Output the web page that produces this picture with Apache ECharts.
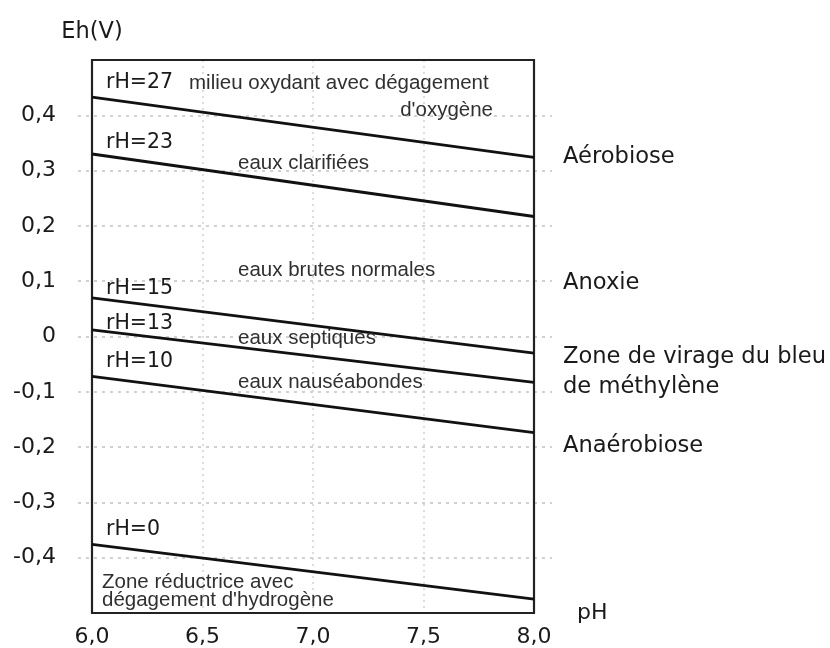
<!DOCTYPE html>
<html>
<head>
<meta charset="utf-8">
<script src="https://cdn.jsdelivr.net/npm/echarts@6/dist/echarts.min.js"></script>
<style>
  html, body { margin: 0; padding: 0; background: #fff; }
  #chart { width: 830px; height: 648px; }
</style>
</head>
<body>
<div id="chart"></div>
<script>
// pH range covered by the iso-rH lines
const phValues = [6.0, 8.0];
// iso-rH lines: rH value, Eh (V) at pH 6 and at pH 8
const rHValues = [27, 23, 15, 13, 10, 0];
const ehAtPh6 = [0.433, 0.330, 0.070, 0.012, -0.072, -0.376];
const ehAtPh8 = [0.324, 0.217, -0.030, -0.083, -0.174, -0.475];
// axis extents
const xRange = [6.0, 8.0];
const yRange = [-0.5, 0.5];
// zone descriptions inside the plot
const zoneTexts = [
  'milieu oxydant avec dégagement',
  "d'oxygène",
  'eaux clarifiées',
  'eaux brutes normales',
  'eaux septiques',
  'eaux nauséabondes',
  'Zone réductrice avec',
  "dégagement d'hydrogène"
];
// biological states on the right side
const stateTexts = ['Aérobiose', 'Anoxie', 'Zone de virage du bleu', 'de méthylène', 'Anaérobiose'];

const LABEL_FONT = '"DejaVu Sans", Verdana, sans-serif';
const ZONE_FONT = '"Liberation Sans", Arial, sans-serif';
const INK = '#1a1a1a';

function fmtComma(v) {
  if (Math.abs(v) < 1e-9) return '0';
  return v.toFixed(1).replace('.', ',');
}

const chart = echarts.init(document.getElementById('chart'), null, { renderer: 'canvas' });

const lineSeries = rHValues.map((rh, i) => ({
  name: 'rH=' + rh,
  type: 'line',
  xAxisIndex: 0,
  yAxisIndex: 0,
  data: [[phValues[0], ehAtPh6[i]], [phValues[1], ehAtPh8[i]]],
  symbol: 'none',
  silent: true,
  z: 5,
  lineStyle: { color: '#111', width: 2.8 }
}));

// "rH=.." captions sit just above the left end of each line
const rhLabelY = [83, 143, 289, 324, 362, 530];
const zonePos = [
  [189, 83, 'left'], [493, 110, 'right'], [238, 163, 'left'], [238, 270, 'left'],
  [238, 338, 'left'], [238, 382, 'left'], [102, 582, 'left'], [102, 600, 'left']
];
const statePos = [157, 283, 357, 387, 446];

const graphics = [];
rHValues.forEach((rh, i) => {
  graphics.push({
    type: 'text', x: 106, y: rhLabelY[i], z: 10,
    style: { text: 'rH=' + rh, fontFamily: LABEL_FONT, fontSize: 20.5, fill: INK, align: 'left', verticalAlign: 'middle' }
  });
});
zoneTexts.forEach((t, i) => {
  graphics.push({
    type: 'text', x: zonePos[i][0], y: zonePos[i][1], z: 10,
    style: { text: t, fontFamily: ZONE_FONT, fontSize: 20.5, fill: '#303030', align: zonePos[i][2], verticalAlign: 'middle' }
  });
});
stateTexts.forEach((t, i) => {
  graphics.push({
    type: 'text', x: 563, y: statePos[i], z: 10,
    style: { text: t, fontFamily: LABEL_FONT, fontSize: 22.6, fill: INK, align: 'left', verticalAlign: 'middle' }
  });
});

const option = {
  backgroundColor: '#fff',
  animation: false,
  grid: [
    // main plot frame
    { left: 92, right: 296, top: 60, bottom: 35, show: true, borderColor: '#222', borderWidth: 2.2, backgroundColor: 'transparent', z: 3 },
    // wider grid carrying the dotted horizontal guides that run past the frame
    { left: 78, right: 278, top: 60, bottom: 35, show: false }
  ],
  xAxis: [
    {
      gridIndex: 0, type: 'value', min: xRange[0], max: xRange[1], interval: 0.5,
      name: 'pH', nameLocation: 'end', nameGap: 43,
      nameTextStyle: { fontFamily: LABEL_FONT, fontSize: 22, color: INK, verticalAlign: 'middle', align: 'left' },
      axisLine: { show: false, onZero: false },
      axisTick: { show: false },
      axisLabel: { formatter: fmtComma, fontFamily: LABEL_FONT, fontSize: 22, color: INK, margin: 13 },
      splitLine: { show: true, showMinLine: false, showMaxLine: false, lineStyle: { color: '#d2d2d2', type: [2, 4], width: 1.5 } }
    },
    { gridIndex: 1, type: 'value', min: xRange[0], max: xRange[1], show: false }
  ],
  yAxis: [
    {
      gridIndex: 0, type: 'value', min: yRange[0], max: yRange[1], interval: 0.1,
      name: 'Eh(V)', nameLocation: 'end', nameGap: 28,
      nameTextStyle: { fontFamily: LABEL_FONT, fontSize: 22.5, color: INK, align: 'center', verticalAlign: 'middle' },
      axisLine: { show: false, onZero: false },
      axisTick: { show: false },
      axisLabel: { formatter: fmtComma, showMinLabel: false, showMaxLabel: false, fontFamily: LABEL_FONT, fontSize: 22, color: INK, margin: 36 },
      splitLine: { show: false }
    },
    {
      gridIndex: 1, type: 'value', min: yRange[0], max: yRange[1], interval: 0.1,
      axisLine: { show: false }, axisTick: { show: false }, axisLabel: { show: false },
      splitLine: { show: true, showMinLine: false, showMaxLine: false, lineStyle: { color: '#c2c2c2', type: [3, 5], width: 1.5 } }
    }
  ],
  series: lineSeries,
  graphic: graphics
};

chart.setOption(option);
</script>
</body>
</html>
